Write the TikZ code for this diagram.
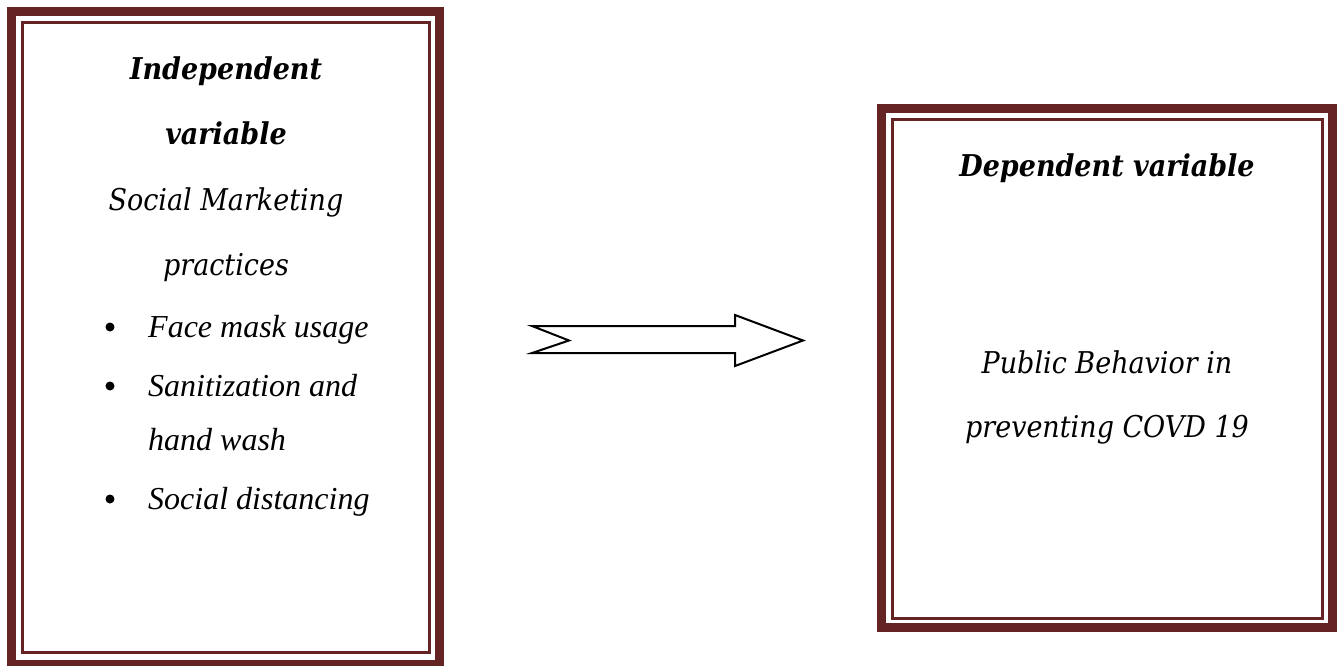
\documentclass[tikz,border=0pt]{standalone}
\usepackage{fontspec}
\setmainfont{DejaVu Serif Condensed}
\newfontfamily\timesf{Liberation Serif}
\definecolor{maroon}{HTML}{632423}
\tikzset{
  outerband/.style={draw=maroon, line width=9pt},
  innerband/.style={draw=maroon, line width=3pt},
  ttl/.style={anchor=base, font=\fontsize{30}{34}\selectfont\bfseries\itshape, inner sep=0pt},
  txt/.style={anchor=base, font=\fontsize{30}{34}\selectfont\itshape, inner sep=0pt},
  blt/.style={anchor=base west, font=\fontsize{32}{36}\selectfont\timesf\itshape, inner sep=0pt},
  dot/.style={circle, fill=black, inner sep=0pt, minimum size=9pt},
  bigarrow/.style={draw=black, line width=2pt, fill=white, line join=miter}
}
\begin{document}
\begin{tikzpicture}[x=1pt,y=-1pt]
\useasboundingbox (0,0) rectangle (1338,665);
\fill[white] (0,0) rectangle (1338,665);
% left box
\draw[outerband] (11.5,11.5) rectangle (439.5,664.5);
\draw[innerband] (22,22) rectangle (429,652);
% right box
\draw[outerband] (881.5,108.5) rectangle (1332.5,627.5);
\draw[innerband] (892,119) rectangle (1322,618);
% left texts
\node[ttl] (t1) at (226,79) {Independent};
\node[ttl] (t2) at (226,144) {variable};
\node[txt] (t3) at (226,210) {Social Marketing};
\node[txt] (t4) at (226,275) {practices};
\node[dot] (d1) at (110,327) {};
\node[blt] (b1) at (148,337) {Face mask usage};
\node[dot] (d2) at (110,386) {};
\node[blt] (b2) at (148,396) {Sanitization and};
\node[blt] (b3) at (148,450) {hand wash};
\node[dot] (d3) at (110,499) {};
\node[blt] (b4) at (148,509) {Social distancing};
% right texts
\node[ttl] (r1) at (1107,176) {Dependent variable};
\node[txt] (r2) at (1107,373) {Public Behavior in};
\node[txt] (r3) at (1107,437) {preventing COVD 19};
% arrow
\draw[bigarrow] (532,326) -- (735,326) -- (735,315) -- (803,340.5) -- (735,366) -- (735,353) -- (532,353) -- (569,340.5) -- cycle;
\end{tikzpicture}
\end{document}
